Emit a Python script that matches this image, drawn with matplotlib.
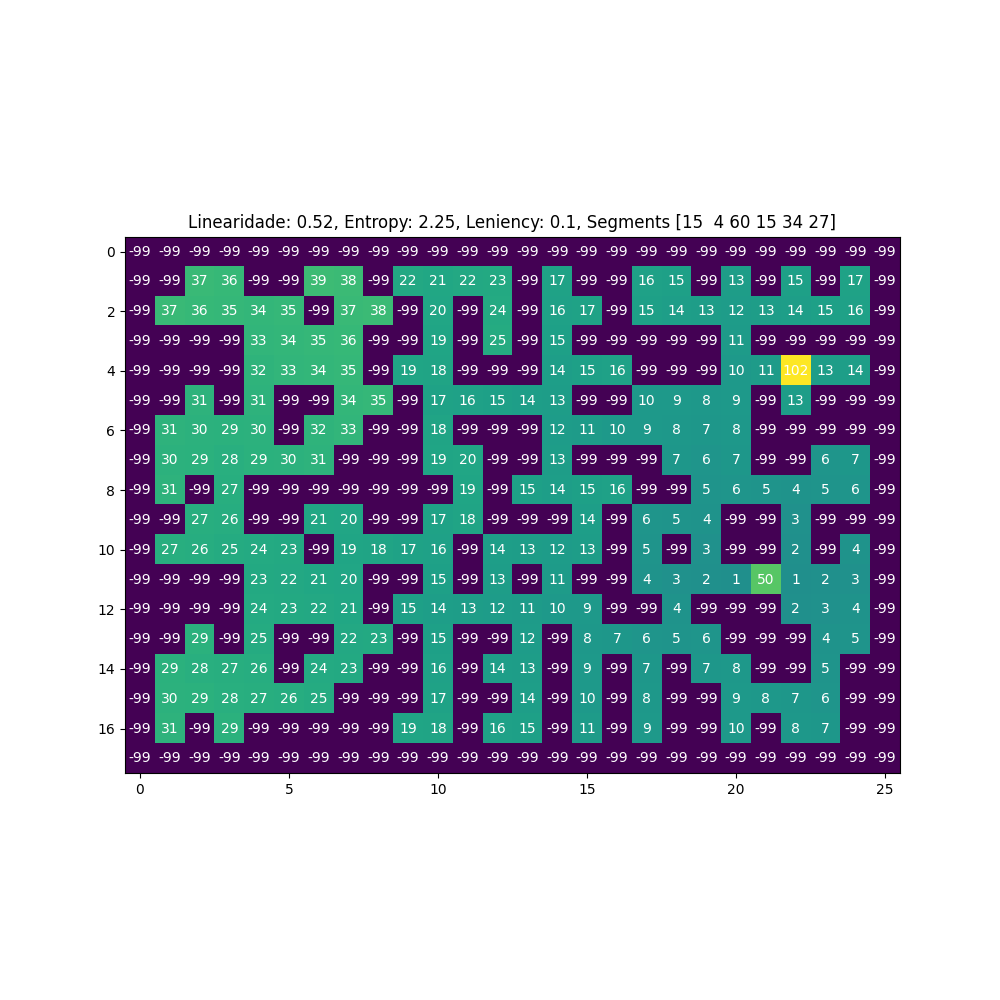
import numpy as np
import matplotlib
matplotlib.use('Agg')
import matplotlib.pyplot as plt

title = 'Linearidade: 0.52, Entropy: 2.25, Leniency: 0.1, Segments [15  4 60 15 34 27]'

W = -99
rows = [
    [W]*26,
    [W, W, 37, 36, W, W, 39, 38, W, 22, 21, 22, 23, W, 17, W, W, 16, 15, W, 13, W, 15, W, 17, W],
    [W, 37, 36, 35, 34, 35, W, 37, 38, W, 20, W, 24, W, 16, 17, W, 15, 14, 13, 12, 13, 14, 15, 16, W],
    [W, W, W, W, 33, 34, 35, 36, W, W, 19, W, 25, W, 15, W, W, W, W, W, 11, W, W, W, W, W],
    [W, W, W, W, 32, 33, 34, 35, W, 19, 18, W, W, W, 14, 15, 16, W, W, W, 10, 11, 102, 13, 14, W],
    [W, W, 31, W, 31, W, W, 34, 35, W, 17, 16, 15, 14, 13, W, W, 10, 9, 8, 9, W, 13, W, W, W],
    [W, 31, 30, 29, 30, W, 32, 33, W, W, 18, W, W, W, 12, 11, 10, 9, 8, 7, 8, W, W, W, W, W],
    [W, 30, 29, 28, 29, 30, 31, W, W, W, 19, 20, W, W, 13, W, W, W, 7, 6, 7, W, W, 6, 7, W],
    [W, 31, W, 27, W, W, W, W, W, W, W, 19, W, 15, 14, 15, 16, W, W, 5, 6, 5, 4, 5, 6, W],
    [W, W, 27, 26, W, W, 21, 20, W, W, 17, 18, W, W, W, 14, W, 6, 5, 4, W, W, 3, W, W, W],
    [W, 27, 26, 25, 24, 23, W, 19, 18, 17, 16, W, 14, 13, 12, 13, W, 5, W, 3, W, W, 2, W, 4, W],
    [W, W, W, W, 23, 22, 21, 20, W, W, 15, W, 13, W, 11, W, W, 4, 3, 2, 1, 50, 1, 2, 3, W],
    [W, W, W, W, 24, 23, 22, 21, W, 15, 14, 13, 12, 11, 10, 9, W, W, 4, W, W, W, 2, 3, 4, W],
    [W, W, 29, W, 25, W, W, 22, 23, W, 15, W, W, 12, W, 8, 7, 6, 5, 6, W, W, W, 4, 5, W],
    [W, 29, 28, 27, 26, W, 24, 23, W, W, 16, W, 14, 13, W, 9, W, 7, W, 7, 8, W, W, 5, W, W],
    [W, 30, 29, 28, 27, 26, 25, W, W, W, 17, W, W, 14, W, 10, W, 8, W, W, 9, 8, 7, 6, W, W],
    [W, 31, W, 29, W, W, W, W, W, 19, 18, W, 16, 15, W, 11, W, 9, W, W, 10, W, 8, 7, W, W],
    [W]*26,
]
grid = np.array(rows)

fig, ax = plt.subplots(figsize=(10, 10), dpi=100)
ax.imshow(grid, cmap='viridis')
for i in range(grid.shape[0]):
    for j in range(grid.shape[1]):
        ax.text(j, i, str(grid[i, j]), ha='center', va='center', color='w')
ax.set_title(title)
plt.savefig('out.png')
